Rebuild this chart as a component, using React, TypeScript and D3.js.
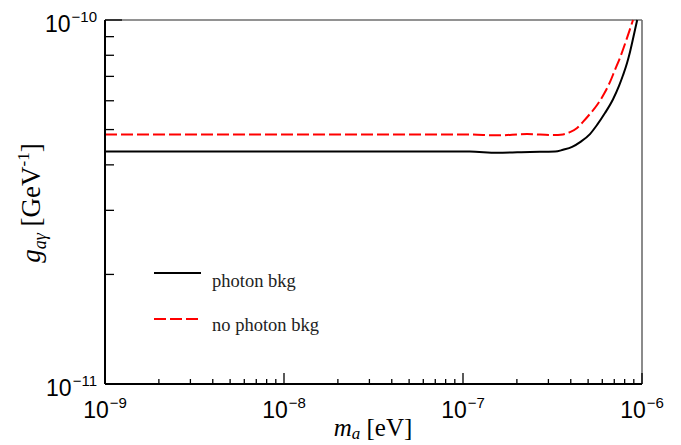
import React from "react";
import * as d3 from "d3";

// axion mass [eV] and coupling limit [GeV^-1]
const massPhoton = [1e-9, 1e-8, 4.45e-8, 1.09e-7, 1.55e-7, 2.37e-7, 3.27e-7, 3.62e-7, 4.07e-7, 4.51e-7, 5.12e-7, 5.61e-7, 6.21e-7, 6.88e-7, 7.44e-7, 7.84e-7, 8.25e-7, 8.57e-7, 9.14e-7, 9.4e-7];
const gPhoton = [4.35e-11, 4.35e-11, 4.35e-11, 4.35e-11, 4.32e-11, 4.34e-11, 4.35e-11, 4.4e-11, 4.48e-11, 4.62e-11, 4.86e-11, 5.15e-11, 5.55e-11, 6.05e-11, 6.59e-11, 7.06e-11, 7.62e-11, 8.17e-11, 9.4e-11, 1e-10];

const massNoPhoton = [1e-9, 1e-8, 4.45e-8, 1.09e-7, 1.55e-7, 2.28e-7, 3.18e-7, 3.62e-7, 3.96e-7, 4.34e-7, 4.68e-7, 5.12e-7, 5.61e-7, 6.14e-7, 6.63e-7, 7.06e-7, 7.53e-7, 8.25e-7, 8.91e-7];
const gNoPhoton = [4.85e-11, 4.85e-11, 4.85e-11, 4.85e-11, 4.82e-11, 4.86e-11, 4.83e-11, 4.85e-11, 4.92e-11, 5.05e-11, 5.25e-11, 5.52e-11, 5.84e-11, 6.27e-11, 6.76e-11, 7.29e-11, 7.87e-11, 8.93e-11, 1e-10];

const xMajor = [-9, -8, -7, -6];
const yMajor = [-11, -10];
const legendLabels = ["photon bkg", "no photon bkg"];

const W = 681;
const H = 445;
const margin = { left: 105, right: 39, top: 20, bottom: 61 };

const sans = "'Liberation Sans', Arial, sans-serif";
const serif = "'Liberation Serif', 'Times New Roman', serif";

const App = () => {
  const x = d3.scaleLog().domain([1e-9, 1e-6]).range([margin.left, W - margin.right]);
  const y = d3.scaleLog().domain([1e-11, 1e-10]).range([H - margin.bottom, margin.top]);

  const line = d3
    .line<[number, number]>()
    .x((d) => x(d[0]))
    .y((d) => y(d[1]))
    .curve(d3.curveMonotoneX);

  const photon = massPhoton.map((m, i) => [m, gPhoton[i]] as [number, number]);
  const noPhoton = massNoPhoton.map((m, i) => [m, gNoPhoton[i]] as [number, number]);

  const x0 = margin.left;
  const x1 = W - margin.right;
  const y0 = H - margin.bottom;
  const y1 = margin.top;

  // minor ticks 2..9 in each decade
  const xMinor: number[] = [];
  for (let e = -9; e < -6; e++) for (let k = 2; k <= 9; k++) xMinor.push(k * Math.pow(10, e));
  const yMinor: number[] = [];
  for (let k = 2; k <= 9; k++) yMinor.push(k * 1e-11);

  return (
    <svg width={W} height={H} style={{ position: "absolute", left: 0, top: 0, background: "#fff" }}>
      <defs>
        <clipPath id="plot">
          <rect x={x0} y={y1 - 1} width={x1 - x0} height={y0 - y1 + 1} />
        </clipPath>
      </defs>

      {/* frame */}
      <line x1={x0} y1={y1} x2={x1} y2={y1} stroke="#6e6e6e" strokeWidth={1.6} />
      <line x1={x1} y1={y1} x2={x1} y2={y0} stroke="#6e6e6e" strokeWidth={1.6} />

      {/* curves */}
      <g clipPath="url(#plot)">
        <path d={line(photon) || ""} fill="none" stroke="#000" strokeWidth={2} />
        <path d={line(noPhoton) || ""} fill="none" stroke="#ff0000" strokeWidth={2} strokeDasharray="12,4" />
      </g>

      <line x1={x0} y1={y1} x2={x0} y2={y0} stroke="#000" strokeWidth={2} />
      <line x1={x0} y1={y0} x2={x1} y2={y0} stroke="#000" strokeWidth={2} />

      {/* x ticks */}
      {xMinor.map((v, i) => (
        <line key={"xm" + i} x1={x(v)} x2={x(v)} y1={y0} y2={y0 - 5} stroke="#000" strokeWidth={1.3} />
      ))}
      {xMajor.map((e) => (
        <line key={"xM" + e} x1={x(Math.pow(10, e))} x2={x(Math.pow(10, e))} y1={y0} y2={y0 - 11} stroke="#000" strokeWidth={1.3} />
      ))}
      {xMajor.map((e) => (
        <text key={"xl" + e} x={x(Math.pow(10, e))} y={418} textAnchor="middle" fontFamily={sans} fontSize={23} fill="#000">
          10<tspan fontSize={15} dx={1} dy={-10}>{"\u2212" + -e}</tspan>
        </text>
      ))}

      {/* y ticks */}
      {yMinor.map((v, i) => (
        <line key={"ym" + i} x1={x0} x2={x0 + 9} y1={y(v)} y2={y(v)} stroke="#000" strokeWidth={1.3} />
      ))}
      {yMajor.map((e) => (
        <line key={"yM" + e} x1={x0} x2={x0 + 17} y1={y(Math.pow(10, e))} y2={y(Math.pow(10, e))} stroke="#000" strokeWidth={1.3} />
      ))}
      {yMajor.map((e) => (
        <text key={"yl" + e} x={97} y={y(Math.pow(10, e)) + 12} textAnchor="end" fontFamily={sans} fontSize={23} fill="#000">
          10<tspan fontSize={15} dx={1} dy={-10}>{"\u2212" + -e}</tspan>
        </text>
      ))}

      {/* axis titles */}
      <text x={373} y={436} textAnchor="middle" fontFamily={serif} fontSize={25} fill="#000">
        <tspan fontStyle="italic">m</tspan>
        <tspan fontStyle="italic" fontSize={17} dy={3}>a</tspan>
        <tspan dy={-3}>{" [eV]"}</tspan>
      </text>
      <text transform="translate(40,203) rotate(-90)" textAnchor="middle" fontFamily={serif} fontSize={27} fill="#000">
        <tspan fontStyle="italic">g</tspan>
        <tspan fontStyle="italic" fontSize={18} dy={6}>{"a\u03b3"}</tspan>
        <tspan dy={-6}>{"  [GeV"}</tspan>
        <tspan fontSize={17} dy={-11}>-1</tspan>
        <tspan dy={11}>]</tspan>
      </text>

      {/* legend */}
      <line x1={154} x2={201} y1={273} y2={273} stroke="#000" strokeWidth={2} />
      <text x={212} y={287} fontFamily={serif} fontSize={18.5} fill="#222">{legendLabels[0]}</text>
      <line x1={154} x2={201} y1={319} y2={319} stroke="#ff0000" strokeWidth={2} strokeDasharray="12,4" />
      <text x={212} y={331} fontFamily={serif} fontSize={18.5} fill="#222">{legendLabels[1]}</text>
    </svg>
  );
};

export default App;
